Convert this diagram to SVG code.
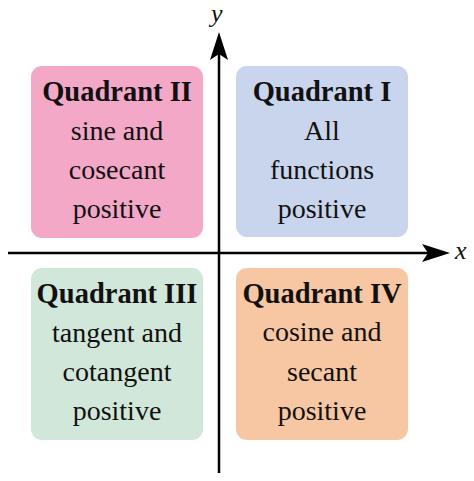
<svg xmlns="http://www.w3.org/2000/svg" width="474" height="481" viewBox="0 0 474 481">
<style>
.box{stroke:none}
.t{font-family:"Liberation Serif","Times New Roman",serif;font-size:28px;fill:#111;text-anchor:middle}
.b{font-weight:bold;font-size:28.5px}
.ax{font-family:"Liberation Serif","Times New Roman",serif;font-size:26px;font-style:italic;fill:#111}
.axis{stroke:#000;stroke-width:2.5;fill:none}
</style>
<defs>
<marker id="arr" markerUnits="userSpaceOnUse" markerWidth="28" markerHeight="18" viewBox="0 0 28 18" refX="18" refY="9" orient="auto">
<path d="M0,0 L28,9 L0,18 L6,9 z" fill="#000"/>
</marker>
</defs>
<rect width="474" height="481" fill="#fff"/>
<g id="q2">
<rect class="box" x="31" y="66" width="172" height="172" rx="11" fill="#F2A8C6"/>
<text class="t b" x="117" y="101">Quadrant II</text>
<text class="t" x="117" y="140">sine and</text>
<text class="t" x="117" y="179">cosecant</text>
<text class="t" x="117" y="218">positive</text>
</g>
<g id="q1">
<rect class="box" x="236" y="66" width="172" height="171" rx="11" fill="#C9D5EC"/>
<text class="t b" x="322" y="101">Quadrant I</text>
<text class="t" x="322" y="140">All</text>
<text class="t" x="322" y="179">functions</text>
<text class="t" x="322" y="218">positive</text>
</g>
<g id="q3">
<rect class="box" x="31" y="268" width="172" height="172" rx="11" fill="#D1E7D9"/>
<text class="t b" x="117" y="303">Quadrant III</text>
<text class="t" x="117" y="342">tangent and</text>
<text class="t" x="117" y="381">cotangent</text>
<text class="t" x="117" y="420">positive</text>
</g>
<g id="q4">
<rect class="box" x="236" y="268" width="172" height="172" rx="11" fill="#F6C7A2"/>
<text class="t b" x="322" y="303">Quadrant IV</text>
<text class="t" x="322" y="341">cosine and</text>
<text class="t" x="322" y="381">secant</text>
<text class="t" x="322" y="420">positive</text>
</g>
<g id="axes">
<line class="axis" x1="8" y1="253" x2="440" y2="253" marker-end="url(#arr)"/>
<line class="axis" x1="219" y1="473" x2="219" y2="42" marker-end="url(#arr)"/>
<text class="ax" x="455" y="259">x</text>
<text class="ax" x="211" y="22">y</text>
</g>
</svg>
